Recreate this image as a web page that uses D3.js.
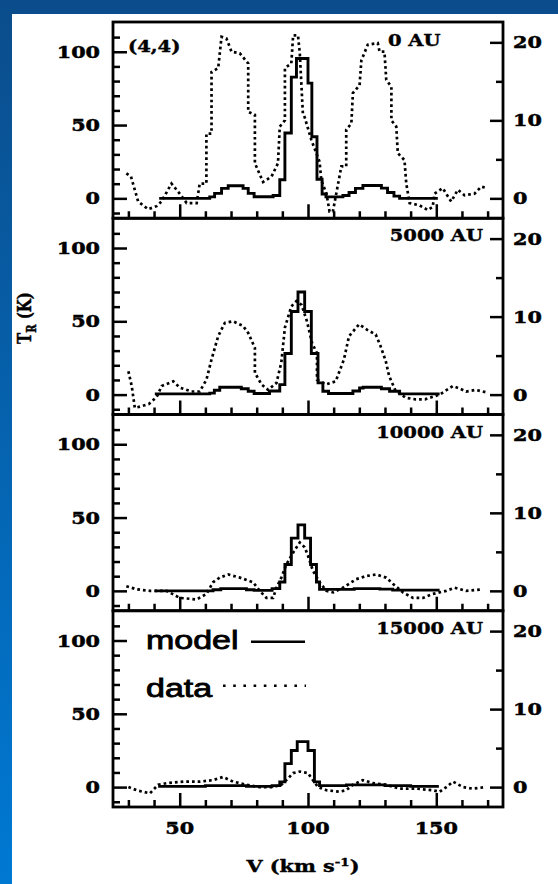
<!DOCTYPE html>
<html>
<head>
<meta charset="utf-8">
<script src="https://cdn.jsdelivr.net/npm/d3@7"></script>
<style>
body { margin: 0; background: #fff; }
</style>
</head>
<body>
<div id="chart"></div>
<script>
// tick values / labels
const velTicks = [50, 100, 150];
const velMinor = [30, 40, 60, 70, 80, 90, 110, 120, 130, 140, 160, 170];
const leftTicks = [0, 50, 100];
const leftMinor = [-10, 10, 20, 30, 40, 60, 70, 80, 90, 110];
const rightTicks = [0, 10, 20];
const rightMinor = [5, 15];
const panelLabels = ["0 AU", "5000 AU", "10000 AU", "15000 AU"];

// model (solid histogram, left axis, K) as [v, T] step starts
const model0 = [[42,0],[61.7,1],[63.6,3.4],[66.3,6.8],[68.9,8.6],[74.7,6.8],[76.7,3.4],[79,1.1],[86.4,2],[89,12.7],[91,44.6],[93.5,82.7],[95.5,95.4],[100,78.6],[101.5,42],[103.5,13],[105.5,3],[107,1],[113.6,2],[116,4],[118.5,6.8],[121.4,8.8],[128.6,7],[131,4],[133.5,1.5],[135.7,0],[150.6,0]];
const model1 = [[40.3,0.5],[61.7,1],[63.5,3],[65.6,5],[74,4],[76.7,2.3],[79,0.8],[85,2.5],[89,6.8],[91,28],[93.5,56.7],[96.1,70],[98.7,56.7],[101.3,28],[103.9,8],[105.8,2.3],[108,0.8],[117.5,2.5],[120.1,4.5],[121.5,5],[128.6,4],[131.8,2.3],[135.7,0.5],[151.3,0.5]];
const model2 = [[40.3,0],[63,0.8],[66,1.5],[76,0.8],[79,0.3],[86,1.5],[89,6],[91,18],[93.5,36],[96.1,45],[98.7,36],[101,18],[103.3,6],[104.5,1],[114,1],[118,1.5],[128,1.2],[133,0.5],[151.3,0.5]];
const model3 = [[41.6,0.5],[60,1],[76,0.5],[86,1],[89,3.6],[91,16],[93.5,25],[95.8,31],[100,25],[102.5,3.6],[104.5,1],[115,1.5],[130,1],[140,0.5],[151,0.5]];

// data (dotted, right axis) as [v, T]
const data0 = [[29.2,3.2],[31,2.8],[33.8,-0.4],[37.7,-1.4],[41,-1],[42.9,-0.4],[46.8,1.9],[50,0.6],[52.7,-0.6],[56.6,-0.6],[57.8,1.9],[60.4,1.9],[60.4,8.3],[62.4,8.3],[62.4,16.2],[65,16.7],[66.3,20.7],[68.2,20.5],[70.2,18.8],[73.4,18.6],[76.7,17.3],[76.7,11.1],[79.3,10.7],[79.3,4.5],[82.5,2.1],[85.8,2.8],[88.3,4.5],[89,9.2],[91,10],[91,16.7],[93.5,17.3],[94.2,20.9],[96.1,20.9],[96.8,18.6],[98,10.9],[98.7,10.4],[101.3,7.5],[104.5,4.7],[105.2,2.3],[107.2,0.6],[108.4,-1.7],[109.7,-1.7],[113,4.1],[114.9,4.1],[114.9,8.8],[116.9,9.6],[117.5,13.5],[120.1,14.5],[120.8,17.7],[123.3,19.7],[127.2,19.9],[127.9,18.8],[129.8,18.8],[130.5,15.2],[132.5,14.3],[132.5,10],[134.4,9.2],[135,5.8],[137.6,4.9],[138.3,1.9],[139.6,-0.6],[143.5,-0.9],[146.7,-1.5],[148.6,-1.1],[149.3,0.6],[152.5,1.3],[155.8,-0.4],[158.4,1.1],[161,0.4],[164.9,0.6],[167.5,1.5],[170,1.3]];
const data1 = [[30,3.0],[31.3,1.1],[32.5,-1.7],[35,-1.5],[38,-1.2],[41,-0.3],[43,1.1],[47.5,1.7],[50,0.9],[54.6,0.4],[57.8,0.4],[60.4,1.9],[62.4,4.5],[65,7.5],[67.6,9.2],[70.8,9.4],[74.7,8.8],[76.7,7.9],[79.3,6.0],[79.3,2.8],[81.9,1.3],[84.5,0.6],[87.7,1.5],[89.6,4.1],[91,8.6],[93.5,11.3],[95.5,12],[97.5,11.5],[99.5,9.5],[101.6,6.6],[103.5,5.3],[103.5,1.9],[106.9,1.3],[110.8,1.7],[114,4.5],[116,7.5],[119.9,9.0],[123.1,8.3],[126.4,7.7],[128.3,6.2],[130.3,4.3],[131.6,2.4],[134,0.6],[138,-0.4],[141.9,-0.6],[145.6,-0.6],[151.3,0],[156.4,1.1],[159,0.8],[161.6,0.4],[165.5,0.6],[169.4,0.3]];
const data2 = [[29.2,0.6],[33.2,0.2],[38.4,0],[44.9,0],[50,-0.9],[56.6,-1.1],[60.4,-0.4],[63,1.1],[65.6,1.7],[68.9,2.1],[73.4,1.7],[78.6,1.1],[81.2,0],[83.8,-0.9],[86.4,-0.9],[87.7,0.4],[89.6,1.7],[91.6,3.4],[94.2,4.9],[96.8,6.2],[98.7,5.6],[100,4.5],[101.9,2.6],[104.5,1.1],[107.2,0],[109.8,-0.2],[113.6,0.4],[118.8,1.5],[122.7,1.9],[126.6,2.1],[130.5,1.7],[133.1,0.9],[137,-0.2],[140.9,-0.9],[144.8,-0.9],[148.6,-0.4],[153.8,0],[157.1,0.4],[161.6,0],[168.1,0.2]];
const data3 = [[30,0],[33.2,-0.4],[38.4,-0.8],[41.6,0.3],[44.9,0.5],[51.4,0.7],[57.8,0.7],[63,0.9],[66.9,1.3],[70.8,0.7],[76,0.3],[81.2,0],[86.4,0],[89.6,0.3],[91.6,0.9],[94.2,1.8],[96.8,2.0],[100,1.8],[101.9,0.9],[103.9,0],[107.2,-0.4],[112.3,-0.6],[114.9,-0.4],[117.5,0.3],[121.4,0.9],[125.3,0.5],[130.5,0.3],[135.7,-0.2],[142.2,-0.2],[148.6,-0.4],[151.3,-0.6],[153.9,0],[156.5,0.7],[160.4,0],[164.2,-0.2],[169.4,0]];

const models = [model0, model1, model2, model3];
const datas = [data0, data1, data2, data3];

const W = 558, H = 884;
const left = 113, right = 503, top0 = 22, ph = 196.25;
const serif = "DejaVu Serif";
const sx = 1.22; // the picture is stretched sideways

const svg = d3.select("#chart").append("svg")
    .attr("width", W)
    .attr("height", H);

// blue slide border
const grad = svg.append("defs").append("linearGradient")
    .attr("id", "blue").attr("x1", 0).attr("y1", 0).attr("x2", 0).attr("y2", 1);
grad.append("stop").attr("offset", "0%").attr("stop-color", "#0b4d8c");
grad.append("stop").attr("offset", "100%").attr("stop-color", "#0079d3");
svg.append("rect").attr("x", 0).attr("y", 0).attr("width", W).attr("height", 14).attr("fill", "#0b4d8c");
svg.append("rect").attr("x", 0).attr("y", 0).attr("width", 12).attr("height", H).attr("fill", "url(#blue)");

function stext(g, x, y, str, anchor, size, family, weight, scale, thick) {
    return g.append("text")
        .attr("transform", `translate(${x},${y}) scale(${scale},1)`)
        .attr("text-anchor", anchor)
        .attr("font-family", family)
        .attr("font-size", size)
        .attr("font-weight", weight)
        .attr("fill", "#000")
        .attr("stroke", "#000")
        .attr("stroke-width", thick)
        .text(str);
}

let x = d3.scaleLinear().domain([24, 176]).range([left, right]);

function ticks(sel, w) {
    sel.select(".domain").remove();
    sel.selectAll("line").attr("stroke", "#000").attr("stroke-width", w);
}

models.forEach(function(model, i) {
    let top = top0 + i * ph, bottom = top + ph;
    let yL = d3.scaleLinear().domain([-13.57, 120.3]).range([bottom, top]);
    let yR = d3.scaleLinear().domain([-2.55, 22.61]).range([bottom, top]);
    let g = svg.append("g");

    g.append("clipPath").attr("id", "clip" + i)
        .append("rect").attr("x", left).attr("y", top).attr("width", right - left).attr("height", ph);

    // bottom ticks (pointing up)
    g.append("g").attr("transform", `translate(0,${bottom})`)
        .call(d3.axisBottom(x).tickValues(velTicks).tickSize(-14).tickFormat(""))
        .call(ticks, 2.5);
    g.append("g").attr("transform", `translate(0,${bottom})`)
        .call(d3.axisBottom(x).tickValues(velMinor).tickSize(-7).tickFormat(""))
        .call(ticks, 2.5);
    // left ticks
    g.append("g").attr("transform", `translate(${left},0)`)
        .call(d3.axisLeft(yL).tickValues(leftTicks).tickSize(-14).tickFormat(""))
        .call(ticks, 2.5);
    g.append("g").attr("transform", `translate(${left},0)`)
        .call(d3.axisLeft(yL).tickValues(leftMinor).tickSize(-7).tickFormat(""))
        .call(ticks, 2.5);
    // right ticks
    g.append("g").attr("transform", `translate(${right},0)`)
        .call(d3.axisRight(yR).tickValues(rightTicks).tickSize(-13).tickFormat(""))
        .call(ticks, 2.5);
    g.append("g").attr("transform", `translate(${right},0)`)
        .call(d3.axisRight(yR).tickValues(rightMinor).tickSize(-7).tickFormat(""))
        .call(ticks, 2.5);

    // tick labels
    leftTicks.forEach(function(t) {
        stext(g, left - 13, yL(t) + 6, String(t), "end", 17, serif, "bold", sx, 0.5);
    });
    rightTicks.forEach(function(t) {
        stext(g, right + 10, yR(t) + 6, String(t), "start", 17, serif, "bold", sx, 0.5);
    });

    // curves
    let data = datas[i];
    g.append("path")
        .attr("clip-path", `url(#clip${i})`)
        .attr("d", d3.line().x(d => x(d[0])).y(d => yR(d[1]))(data))
        .attr("fill", "none")
        .attr("stroke", "#000")
        .attr("stroke-width", 2.7)
        .attr("stroke-dasharray", "2.7,3");
    g.append("path")
        .attr("clip-path", `url(#clip${i})`)
        .attr("d", d3.line().curve(d3.curveStepAfter).x(d => x(d[0])).y(d => yL(d[1]))(model))
        .attr("fill", "none")
        .attr("stroke", "#000")
        .attr("stroke-width", 2.9);

    // frame
    g.append("rect")
        .attr("x", left).attr("y", top).attr("width", right - left).attr("height", ph)
        .attr("fill", "none").attr("stroke", "#000").attr("stroke-width", 2.8);

    // panel label
    if (i === 0) {
        stext(g, 388, top + 24, panelLabels[i], "start", 16, serif, "bold", sx, 0.4);
        stext(g, 128, top + 30, "(4,4)", "start", 16, serif, "bold", sx, 0.4);
    } else {
        stext(g, 483, top + 23, panelLabels[i], "end", 16, serif, "bold", sx, 0.4);
    }

    if (i === 3) {
        velTicks.forEach(function(t) {
            stext(svg, x(t), bottom + 27, String(t), "middle", 17, serif, "bold", sx, 0.5);
        });
        // legend
        stext(g, 146, top + 38, "model", "start", 25, "Liberation Sans", "normal", 1.36, 0.8);
        g.append("line").attr("x1", 251).attr("x2", 305).attr("y1", top + 31).attr("y2", top + 31)
            .attr("stroke", "#000").attr("stroke-width", 2.4);
        stext(g, 146, top + 86, "data", "start", 25, "Liberation Sans", "normal", 1.36, 0.8);
        g.append("line").attr("x1", 223).attr("x2", 306).attr("y1", top + 75).attr("y2", top + 75)
            .attr("stroke", "#000").attr("stroke-width", 2.6).attr("stroke-dasharray", "2.6,7.6");
    }
});

// axis titles
let xt = svg.append("text")
    .attr("transform", `translate(303,872) scale(${sx},1)`)
    .attr("text-anchor", "middle")
    .attr("font-family", serif).attr("font-size", 17).attr("font-weight", "bold")
    .attr("stroke", "#000").attr("stroke-width", 0.4);
xt.append("tspan").text("V (km s");
xt.append("tspan").attr("dy", -6).attr("font-size", 11).text("-1");
xt.append("tspan").attr("dy", 6).text(")");

let yt = svg.append("text")
    .attr("transform", `translate(31,318) scale(${sx},1) rotate(-90)`)
    .attr("text-anchor", "middle")
    .attr("font-family", serif).attr("font-size", 15).attr("font-weight", "bold")
    .attr("stroke", "#000").attr("stroke-width", 0.4);
yt.append("tspan").text("T");
yt.append("tspan").attr("dy", 4).attr("font-size", 10).text("R");
yt.append("tspan").attr("dy", -4).text(" (K)");
</script>
</body>
</html>
